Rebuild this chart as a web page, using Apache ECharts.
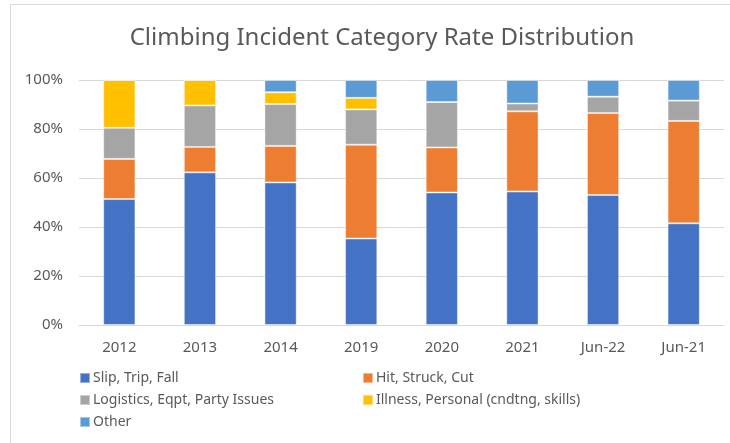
<!DOCTYPE html>
<html>
<head>
<meta charset="utf-8">
<script src="https://cdn.jsdelivr.net/npm/echarts@6/dist/echarts.min.js"></script>
<style>
  html, body { margin: 0; padding: 0; background: #fff; }
  #main { width: 730px; height: 443px; }
</style>
</head>
<body>
<div id="main"></div>
<script>
const categories = ["2012", "2013", "2014", "2019", "2020", "2021", "Jun-22", "Jun-21"];
const slipTripFall = [51.4, 62.3, 58.2, 35.3, 54.1, 54.5, 53.1, 41.5];
const hitStruckCut = [16.4, 10.4, 14.9, 38.3, 18.4, 32.7, 33.4, 41.8];
const logistics = [12.7, 16.9, 17.1, 14.4, 18.5, 3.2, 6.7, 8.3];
const illness = [19.5, 10.4, 4.8, 4.7, 0, 0, 0, 0];
const other = [0, 0, 5.0, 7.3, 9.0, 9.6, 6.8, 8.4];
const yTicks = [0, 20, 40, 60, 80, 100];

(() => {
  let myChart = echarts.init(document.querySelector("#main"));
  const font = "'Noto Sans', sans-serif";
  const mk = (name, data, color) => ({
    name: name,
    type: "bar",
    stack: "total",
    barWidth: "40%",
    data: data,
    itemStyle: {
      color: color,
      borderColor: "rgba(255,255,255,0.45)",
      borderWidth: 1,
    },
  });
  let option = {
    animation: false,
    title: {
      text: "Climbing Incident Category Rate Distribution",
      left: 377,
      textAlign: "center",
      top: 21,
      textStyle: {
        color: "#595959",
        fontFamily: font,
        fontWeight: "normal",
        fontSize: 24,
      },
    },
    graphic: [
      {
        type: "rect",
        shape: { x: 10.5, y: 4.5, width: 740, height: 460 },
        style: { fill: null, stroke: "#d9d9d9", lineWidth: 1 },
      },
    ],
    legend: [
      {
        orient: "vertical",
        left: 74,
        top: 366,
        itemWidth: 10,
        itemHeight: 10,
        itemGap: 8,
        icon: "rect",
        textStyle: { color: "#595959", fontSize: 14, fontFamily: font, padding: [0, 0, 0, -2] },
        data: ["Slip, Trip, Fall", "Logistics, Eqpt, Party Issues", "Other"],
      },
      {
        orient: "vertical",
        left: 357,
        top: 366,
        itemWidth: 10,
        itemHeight: 10,
        itemGap: 8,
        icon: "rect",
        textStyle: { color: "#595959", fontSize: 14, fontFamily: font, padding: [0, 0, 0, -2] },
        data: ["Hit, Struck, Cut", "Illness, Personal (cndtng, skills)"],
      },
    ],
    grid: {
      left: 79,
      right: 6,
      top: 80,
      bottom: 118,
    },
    xAxis: {
      type: "category",
      data: categories,
      axisTick: { show: false },
      axisLine: { lineStyle: { color: "#d9d9d9", width: 1 } },
      axisLabel: {
        color: "#595959",
        fontSize: 15,
        fontFamily: font,
        margin: 15,
      },
    },
    yAxis: {
      type: "value",
      min: yTicks[0],
      max: yTicks[yTicks.length - 1],
      interval: 20,
      axisLine: { show: false },
      axisTick: { show: false },
      splitLine: { lineStyle: { color: "#d9d9d9", width: 1 } },
      axisLabel: {
        color: "#595959",
        fontSize: 15,
        fontFamily: font,
        margin: 16,
        formatter: "{value}%",
      },
    },
    series: [
      mk("Slip, Trip, Fall", slipTripFall, "#4472c4"),
      mk("Hit, Struck, Cut", hitStruckCut, "#ed7d31"),
      mk("Logistics, Eqpt, Party Issues", logistics, "#a5a5a5"),
      mk("Illness, Personal (cndtng, skills)", illness, "#ffc000"),
      mk("Other", other, "#5b9bd5"),
    ],
  };
  myChart.setOption(option);
  window.addEventListener("resize", () => {
    myChart.resize();
  });
})();
</script>
</body>
</html>
